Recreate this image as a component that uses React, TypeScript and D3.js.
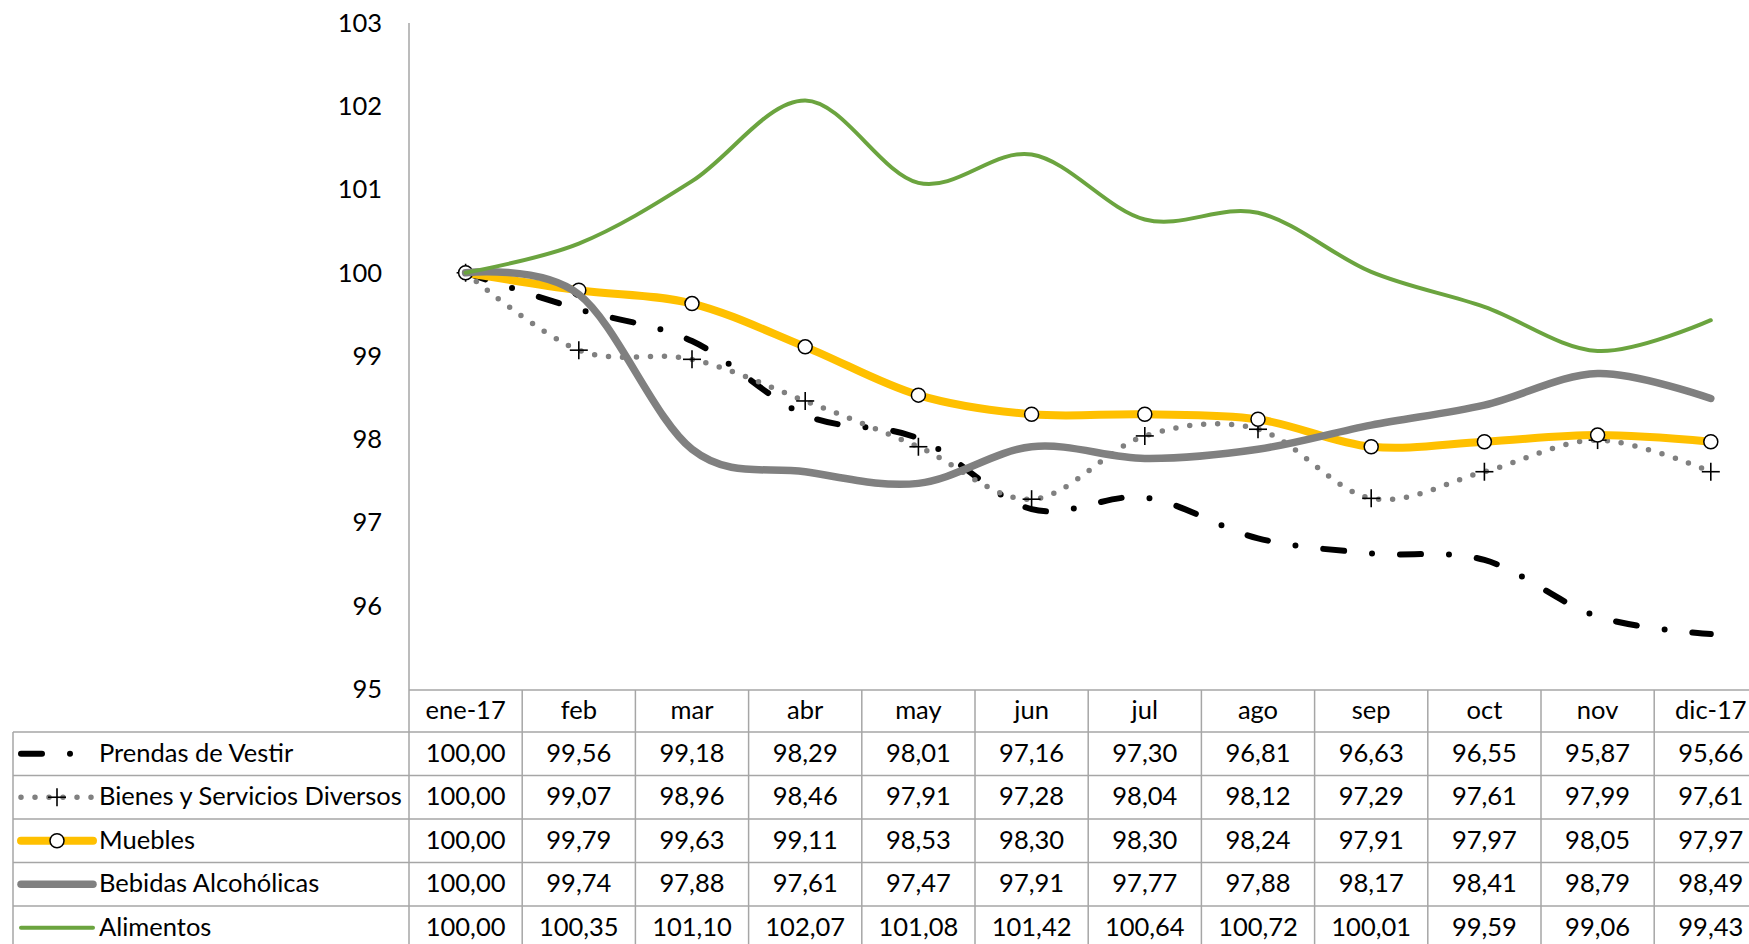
import React from "react";
import * as d3 from "d3";

const months = ["ene-17", "feb", "mar", "abr", "may", "jun", "jul", "ago", "sep", "oct", "nov", "dic-17"];
const yTicks = [95, 96, 97, 98, 99, 100, 101, 102, 103];

const prendas = [100.0, 99.56, 99.18, 98.29, 98.01, 97.16, 97.3, 96.81, 96.63, 96.55, 95.87, 95.66];
const bienes = [100.0, 99.07, 98.96, 98.46, 97.91, 97.28, 98.04, 98.12, 97.29, 97.61, 97.99, 97.61];
const muebles = [100.0, 99.79, 99.63, 99.11, 98.53, 98.3, 98.3, 98.24, 97.91, 97.97, 98.05, 97.97];
const bebidas = [100.0, 99.74, 97.88, 97.61, 97.47, 97.91, 97.77, 97.88, 98.17, 98.41, 98.79, 98.49];
const alimentos = [100.0, 100.35, 101.1, 102.07, 101.08, 101.42, 100.64, 100.72, 100.01, 99.59, 99.06, 99.43];

const seriesNames = ["Prendas de Vestir", "Bienes y Servicios Diversos", "Muebles", "Bebidas Alcohólicas", "Alimentos"];

type Style = {
  color: string;
  width: number;
  dash?: string;
  marker?: "plus" | "circle";
};

const styles: Style[] = [
  { color: "#000000", width: 6, dash: "21 28 0 28" },
  { color: "#808080", width: 5.5, dash: "0 14", marker: "plus" },
  { color: "#FFC000", width: 8, marker: "circle" },
  { color: "#808080", width: 7.5 },
  { color: "#6BA43F", width: 4 },
];

const seriesData = [prendas, bienes, muebles, bebidas, alimentos];

const W = 1749;
const H = 944;
const axisX = 409;
const colW = 113.2;
const plotTop = 23;
const plotBottom = 689;
const headerTop = 690;
const rowTop = 732;
const rowH = 43.5;
const legendLeft = 13;
const FONT = "Lato, 'Open Sans', sans-serif";
const FS = 25.5;
const GRID = "#a6a6a6";

function fmt(v: number) {
  return v.toFixed(2).replace(".", ",");
}

export default function App() {
  const x = d3
    .scaleBand<string>()
    .domain(months)
    .range([axisX, axisX + colW * months.length])
    .padding(0);
  const y = d3.scaleLinear().domain([95, 103]).range([plotBottom, plotTop]);
  const cx = (m: string) => (x(m) as number) + x.bandwidth() / 2;

  const line = d3
    .line<number>()
    .x((_, i) => cx(months[i]))
    .y((d) => y(d))
    .curve(d3.curveCatmullRom.alpha(0));

  const rightEdge = axisX + colW * months.length;

  const renderMarker = (kind: string | undefined, px: number, py: number, key: string) => {
    if (kind === "plus") {
      return (
        <g key={key} stroke="#000" strokeWidth={1.6}>
          <line x1={px - 9} x2={px + 9} y1={py} y2={py} />
          <line x1={px} x2={px} y1={py - 9} y2={py + 9} />
        </g>
      );
    }
    if (kind === "circle") {
      return <circle key={key} cx={px} cy={py} r={7} fill="#fff" stroke="#000" strokeWidth={1.5} />;
    }
    return null;
  };

  return (
    <svg
      width={W}
      height={H}
      style={{ position: "absolute", left: 0, top: 0, background: "#fff" }}
      fontFamily={FONT}
    >
      <rect x={0} y={0} width={W} height={H} fill="#fff" />
      {yTicks.map((t) => (
        <text key={t} x={382} y={y(t)} dy="0.35em" textAnchor="end" fontSize={FS} fill="#000">
          {t}
        </text>
      ))}
      <line x1={axisX} x2={axisX} y1={plotTop} y2={H} stroke={GRID} strokeWidth={1.5} />
      <line x1={axisX} x2={W} y1={headerTop} y2={headerTop} stroke={GRID} strokeWidth={1.5} />
      {d3.range(seriesNames.length + 1).map((i) => (
        <line
          key={"h" + i}
          x1={legendLeft}
          x2={W}
          y1={rowTop + i * rowH}
          y2={rowTop + i * rowH}
          stroke={GRID}
          strokeWidth={1.5}
        />
      ))}
      <line x1={legendLeft} x2={legendLeft} y1={rowTop} y2={H} stroke={GRID} strokeWidth={1.5} />
      {months.map((m, i) =>
        i === 0 ? null : (
          <line
            key={"v" + m}
            x1={x(m) as number}
            x2={x(m) as number}
            y1={headerTop}
            y2={H}
            stroke={GRID}
            strokeWidth={1.5}
          />
        )
      )}
      <line x1={rightEdge} x2={rightEdge} y1={headerTop} y2={H} stroke={GRID} strokeWidth={1.5} />
      {months.map((m) => (
        <text key={"hd" + m} x={cx(m)} y={(headerTop + rowTop) / 2 - 1} dy="0.35em" textAnchor="middle" fontSize={FS}>
          {m}
        </text>
      ))}
      {seriesNames.map((name, si) => {
        const cy = rowTop + si * rowH + rowH / 2;
        const st = styles[si];
        return (
          <g key={"r" + si}>
            <line
              x1={21}
              x2={93}
              y1={cy}
              y2={cy}
              stroke={st.color}
              strokeWidth={st.width}
              strokeDasharray={st.dash}
              strokeLinecap="round"
            />
            {renderMarker(st.marker, 57, cy, "lm" + si)}
            <text x={99} y={cy - 1} dy="0.35em" fontSize={FS}>
              {name}
            </text>
            {seriesData[si].map((v, i) => (
              <text key={i} x={cx(months[i])} y={cy - 1} dy="0.35em" textAnchor="middle" fontSize={FS}>
                {fmt(v)}
              </text>
            ))}
          </g>
        );
      })}
      {seriesData.map((data, si) => {
        const st = styles[si];
        return (
          <g key={"s" + si}>
            <path
              d={line(data) as string}
              fill="none"
              stroke={st.color}
              strokeWidth={st.width}
              strokeDasharray={st.dash}
              strokeLinecap="round"
              strokeLinejoin="round"
            />
            {data.map((v, i) => renderMarker(st.marker, cx(months[i]), y(v), "m" + si + "-" + i))}
          </g>
        );
      })}
    </svg>
  );
}
